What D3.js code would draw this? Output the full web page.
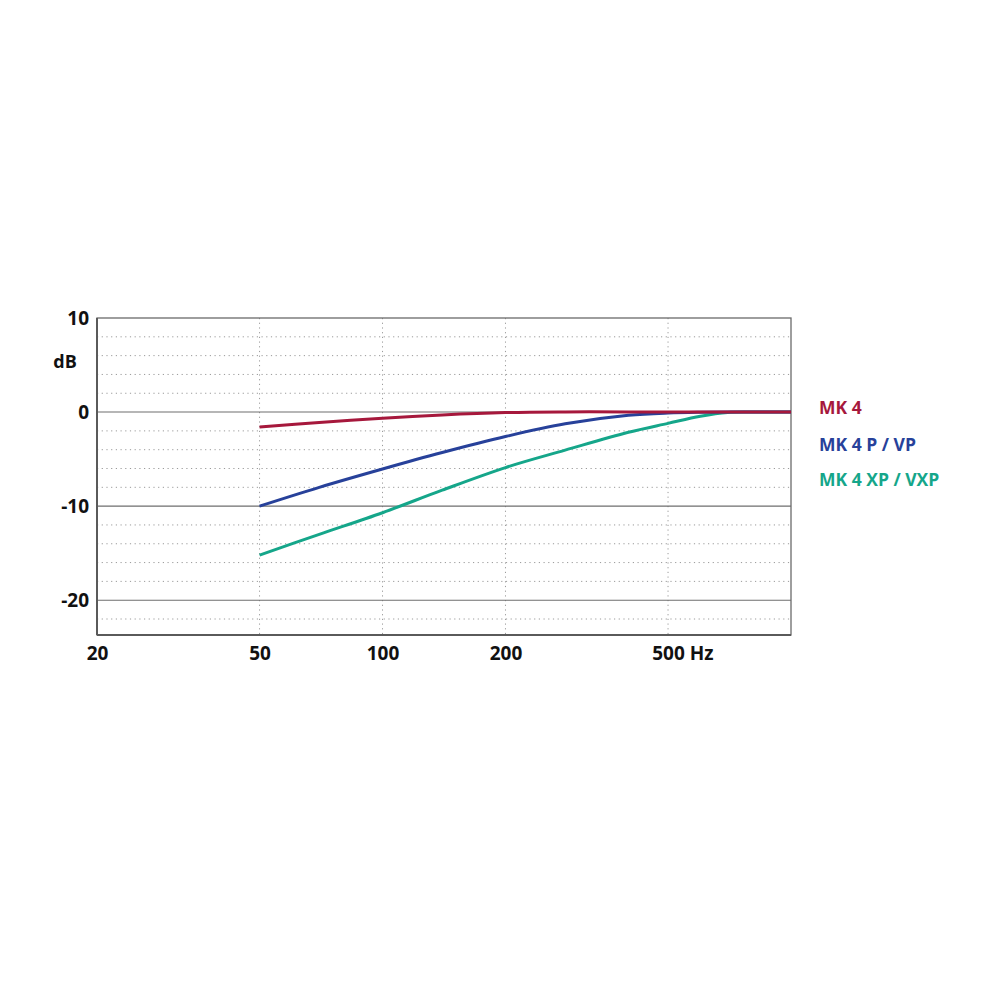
<!DOCTYPE html>
<html>
<head>
<meta charset="utf-8">
<script src="https://cdn.jsdelivr.net/npm/d3@7"></script>
<style>
  html, body { margin: 0; padding: 0; background: #fff; }
  svg { display: block; }
  text { font-family: "Open Sans", "Noto Sans", sans-serif; font-weight: 700; }
</style>
</head>
<body>
<script>
// ---- data ----
const freqs = [50, 70, 100, 140, 200, 280, 400, 500, 600, 700, 800, 1000];
const mk4 = [-1.6, -1.1, -0.65, -0.3, -0.05, 0.02, 0.02, 0.01, 0, 0, 0, 0];
const mk4pvp = [-10, -8.0, -6.05, -4.3, -2.6, -1.25, -0.35, -0.1, -0.02, 0, 0, 0];
const mk4xpvxp = [-15.2, -13.0, -10.7, -8.3, -5.9, -4.05, -2.15, -1.2, -0.45, -0.05, 0, 0];
const seriesNames = ["MK 4", "MK 4 P / VP", "MK 4 XP / VXP"];
const seriesColors = ["#a6183c", "#27419a", "#15a68a"];
const xTicks = [20, 50, 100, 200, 500];
const xTickLabels = ["20", "50", "100", "200", "500"];
const yTicks = [10, 0, -10, -20];
const yTickLabels = ["10", "0", "-10", "-20"];
const yMinor = [8, 6, 4, 2, -2, -4, -6, -8, -12, -14, -16, -18, -22];
const yUnit = "dB";
const xUnit = "Hz";

// ---- layout ----
const W = 1000, H = 1000;
const L = 97, R = 791, T = 318, B = 635;

const svg = d3.select("body").append("svg").attr("width", W).attr("height", H);

const x = d3.scaleLog().domain([20, 1000]).range([L, R]);
const y = d3.scaleLinear().domain([-23.7, 10]).range([B, T]);

// minor dotted horizontal grid
svg.append("g").selectAll("line").data(yMinor).join("line")
  .attr("x1", L).attr("x2", R)
  .attr("y1", d => y(d)).attr("y2", d => y(d))
  .attr("stroke", "#9a9a9a").attr("stroke-width", 1)
  .attr("stroke-dasharray", "1.2,3.5");

// dotted vertical grid
svg.append("g").selectAll("line").data(xTicks.filter(d => d > 20)).join("line")
  .attr("x1", d => x(d)).attr("x2", d => x(d))
  .attr("y1", T).attr("y2", B)
  .attr("stroke", "#9a9a9a").attr("stroke-width", 1)
  .attr("stroke-dasharray", "1.2,3.5");

// solid major horizontal lines
svg.append("g").selectAll("line").data(yTicks.filter(d => d < 10)).join("line")
  .attr("x1", L).attr("x2", R)
  .attr("y1", d => y(d)).attr("y2", d => y(d))
  .attr("stroke", "#6e6e6e").attr("stroke-width", 1.1);

// frame
svg.append("rect").attr("x", L).attr("y", T).attr("width", R - L).attr("height", B - T)
  .attr("fill", "none").attr("stroke", "#6a6a6a").attr("stroke-width", 1.3);
svg.append("line").attr("x1", L).attr("x2", L).attr("y1", T).attr("y2", B)
  .attr("stroke", "#5a5a5a").attr("stroke-width", 2);
svg.append("line").attr("x1", L).attr("x2", R).attr("y1", B).attr("y2", B)
  .attr("stroke", "#5a5a5a").attr("stroke-width", 2);

// y axis labels
const yAxis = d3.axisLeft(y).tickValues(yTicks).tickSize(0).tickPadding(8)
  .tickFormat((d, i) => yTickLabels[i]);
const gy = svg.append("g").attr("transform", `translate(${L},0)`).call(yAxis);
gy.select(".domain").remove();
gy.selectAll("text").attr("font-size", 19).attr("fill", "#111")
  .style("font-family", '"Open Sans", "Noto Sans", sans-serif').style("font-weight", 700);
svg.append("text").attr("x", 65).attr("y", 368).attr("text-anchor", "middle")
  .attr("font-size", 18).attr("fill", "#111").text(yUnit);

// x axis labels
const xAxis = d3.axisBottom(x).tickValues(xTicks).tickSize(0).tickPadding(12)
  .tickFormat((d, i) => xTickLabels[i]);
const gx = svg.append("g").attr("transform", `translate(0,${B})`).call(xAxis);
gx.select(".domain").remove();
gx.selectAll("text").attr("font-size", 19).attr("fill", "#111")
  .style("font-family", '"Open Sans", "Noto Sans", sans-serif').style("font-weight", 700);
// append unit to last tick
gx.selectAll(".tick").filter(d => d === 500).select("text")
  .each(function () {
    const w = this.getComputedTextLength();
    d3.select(this).attr("text-anchor", "start").attr("x", -w / 2).text("500 " + xUnit);
  });

// curves
const seriesData = [mk4, mk4pvp, mk4xpvxp];
const line = d3.line().x((d, i) => x(freqs[i])).y(d => y(d)).curve(d3.curveCatmullRom.alpha(0.5));
// draw green, blue, then red on top
[2, 1, 0].forEach(k => {
  svg.append("path").datum(seriesData[k])
    .attr("d", line).attr("fill", "none")
    .attr("stroke", seriesColors[k]).attr("stroke-width", 3)
    .attr("stroke-linecap", "butt");
});

// legend
const legY = [414, 451, 486];
svg.append("g").selectAll("text").data(seriesNames).join("text")
  .attr("x", 819).attr("y", (d, i) => legY[i])
  .attr("font-size", 17.5).attr("fill", (d, i) => seriesColors[i])
  .text(d => d);
</script>
</body>
</html>
